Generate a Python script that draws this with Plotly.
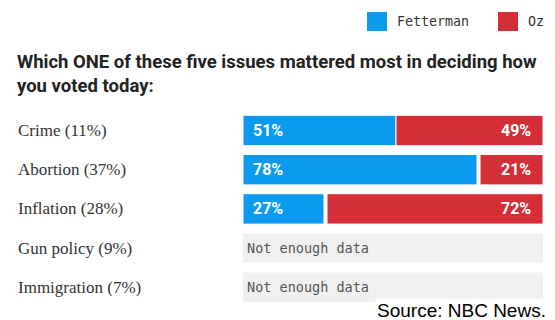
import plotly.graph_objects as go

# ---- data ----
categories = ["Crime (11%)", "Abortion (37%)", "Inflation (28%)", "Gun policy (9%)", "Immigration (7%)"]
fetterman = [51, 78, 27, None, None]
oz = [49, 21, 72, None, None]
series_names = ["Fetterman", "Oz"]
no_data_label = "Not enough data"
title_text = "Which ONE of these five issues mattered most in deciding how<br>you voted today:"
source_text = "Source: NBC News."

W, H = 555, 320
BLUE = "#0b9aee"
RED = "#d42e37"
GRAY = "#f0f0f0"
NARROW = "Roboto, sans-serif"
MONO = "DejaVu Sans Mono, Liberation Mono, monospace"
SERIF = "Liberation Serif, Times New Roman, serif"

def px(xp):
    return xp / W

def py(yp):
    return (H - yp) / H

fig = go.Figure()

nodata = [100 if f is None else None for f in fetterman]
fig.add_trace(go.Bar(y=categories, x=nodata, base=0, orientation="h",
                     marker=dict(color=GRAY, line=dict(width=0)), width=0.75,
                     hoverinfo="skip", showlegend=False))
fig.add_trace(go.Bar(y=categories, x=fetterman, base=0, orientation="h",
                     marker=dict(color=BLUE, line=dict(color="white", width=1)), width=0.775,
                     name=series_names[0], showlegend=False))
fig.add_trace(go.Bar(y=categories, x=oz, base=[(100 - v) if v is not None else None for v in oz],
                     orientation="h",
                     marker=dict(color=RED, line=dict(color="white", width=1)), width=0.775,
                     name=series_names[1], showlegend=False))

annotations = []
for cat, f, o in zip(categories, fetterman, oz):
    annotations.append(dict(xref="paper", yref="y", x=px(16), y=cat, xanchor="left", yanchor="middle",
                            text=cat, showarrow=False,
                            font=dict(family=SERIF, size=17, color="#333333")))
    if f is None:
        annotations.append(dict(xref="x", yref="y", x=0, y=cat, xanchor="left", yanchor="middle",
                                xshift=2, text=no_data_label, showarrow=False,
                                font=dict(family=MONO, size=13.5, color="#555555")))
    else:
        annotations.append(dict(xref="x", yref="y", x=0, y=cat, xanchor="left", yanchor="middle",
                                xshift=8, text=f"<b>{f}%</b>", showarrow=False,
                                font=dict(family=NARROW, size=16, color="white")))
        annotations.append(dict(xref="x", yref="y", x=100, y=cat, xanchor="right", yanchor="middle",
                                xshift=-10, text=f"<b>{o}%</b>", showarrow=False,
                                font=dict(family=NARROW, size=16, color="white")))

# title
annotations.append(dict(xref="paper", yref="paper", x=px(15), y=py(49), xanchor="left", yanchor="top",
                        text=f"<b>{title_text}</b>", showarrow=False, align="left",
                        font=dict(family=NARROW, size=18.5, color="#222222")))

# legend
shapes = []
legend_x = [367, 498]
legend_colors = [BLUE, RED]
for name, lx, col in zip(series_names, legend_x, legend_colors):
    shapes.append(dict(type="rect", xref="paper", yref="paper", x0=px(lx), x1=px(lx + 20),
                       y0=py(31), y1=py(12), fillcolor=col, line=dict(width=0)))
    annotations.append(dict(xref="paper", yref="paper", x=px(lx + 28), y=py(21.5), xanchor="left",
                            yanchor="middle", text=name, showarrow=False,
                            font=dict(family=MONO, size=13.3, color="#333333")))

# source
annotations.append(dict(xref="paper", yref="paper", x=px(548), y=0, xanchor="right", yanchor="bottom",
                        yshift=-3, text=source_text, showarrow=False, bgcolor="white",
                        font=dict(family="Liberation Sans, Arial, sans-serif", size=19, color="black")))

top, bottom = 110.9, 306.9
fig.update_layout(
    width=W, height=H, margin=dict(l=0, r=0, t=0, b=0),
    paper_bgcolor="white", plot_bgcolor="white",
    barmode="overlay", showlegend=False,
    xaxis=dict(domain=[px(243), px(543)], range=[0, 100], visible=False, fixedrange=True),
    yaxis=dict(domain=[py(bottom), py(top)], categoryorder="array", categoryarray=categories,
               autorange="reversed", visible=False, fixedrange=True),
    annotations=annotations, shapes=shapes,
)

fig.write_html("out.html", config={"displayModeBar": False})
